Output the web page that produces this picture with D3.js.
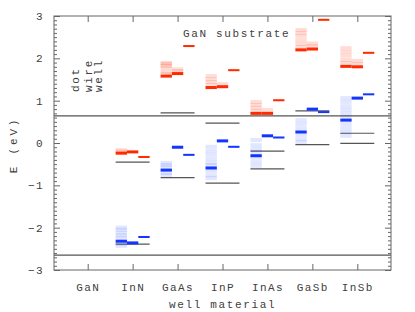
<!DOCTYPE html>
<html><head><meta charset="utf-8">
<script src="https://cdn.jsdelivr.net/npm/d3@7/dist/d3.min.js"></script>
<style>
html,body{margin:0;padding:0;background:#fff;}
svg text{font-family:"Liberation Mono","DejaVu Sans Mono",monospace;fill:#404040;}
</style></head>
<body><svg id="c" width="415" height="312"></svg>
<script>
// ---- data ----
const materials = ["GaN","InN","GaAs","InP","InAs","GaSb","InSb"];
const yTicks = [-3,-2,-1,0,1,2,3];
const structures = ["dot","wire","well"];
const substrateCB = 0.64, substrateVB = -2.65;
const cbEdge = [null, -0.45, 0.71, 0.47, -0.19, 0.76, 0.23];
const vbEdge = [null, -2.39, -0.82, -0.95, -0.61, -0.04, -0.01];
// first value of each list = ground state, the rest = excited states
const dotE = [[], [-0.24,-0.20,-0.17], [1.58,1.63,1.68,1.77,1.82,1.87,1.89], [1.31,1.37,1.44,1.51,1.58],
  [0.70,0.76,0.83,0.90,0.97], [2.20,2.27,2.34,2.43,2.53,2.60,2.67], [1.81,1.89,1.96,2.06,2.15,2.24]];
const wireE = [[], [-0.21], [1.64,1.70,1.74], [1.33,1.39], [0.70,0.78], [2.22,2.29,2.35], [1.80,1.87,1.94]];
const wellE = [[], [-0.33], [2.29], [1.72], [1.01], [2.91], [2.13]];
const dotH = [[], [-2.32,-2.00,-2.05,-2.12,-2.18,-2.24,-2.38,-2.43], [-0.64,-0.47,-0.52,-0.57,-0.71,-0.76],
  [-0.59,-0.09,-0.19,-0.28,-0.38,-0.47,-0.52,-0.66,-0.76,-0.83], [-0.30,0.07,-0.05,-0.14,-0.21,-0.35,-0.45,-0.54],
  [0.26,0.54,0.45,0.35,0.19,0.09,0.02], [0.54,1.06,0.97,0.87,0.78,0.69,0.61,0.45,0.35,0.26,0.17]];
const wireH = [[], [-2.36], [-0.10], [0.05], [0.17], [0.80], [1.06]];
const wellH = [[], [-2.22], [-0.28], [-0.09], [0.13], [0.73], [1.15]];

// ---- layout ----
const L=54, R=391, T=16, B=270;
const svg = d3.select("#c");
const x = d3.scaleLinear().domain([-0.75, 6.75]).range([L, R]);
const y = d3.scaleLinear().domain([-3, 3]).range([B, T]);
const halfW = 0.378;
const red = "#ff2a00", blue = "#1236ff";

// substrate lines
[substrateCB, substrateVB].forEach(v => {
  svg.append("line").attr("x1", L).attr("x2", R).attr("y1", y(v)).attr("y2", y(v))
    .attr("stroke", "#555").attr("stroke-width", 1.3);
});

const g = svg.append("g");
materials.forEach((m, i) => {
  if (i === 0) return;
  const sub = d3.scaleBand().domain(structures).range([x(i - halfW), x(i + halfW)]);
  [cbEdge[i], vbEdge[i]].forEach(v => {
    g.append("line").attr("x1", x(i - halfW)).attr("x2", x(i + halfW))
      .attr("y1", y(v)).attr("y2", y(v)).attr("stroke", "#555").attr("stroke-width", 1.2);
  });
  const sets = [
    ["dot", dotE[i], red], ["wire", wireE[i], red], ["well", wellE[i], red],
    ["dot", dotH[i], blue], ["wire", wireH[i], blue], ["well", wellH[i], blue]
  ];
  sets.forEach(([s, lv, col]) => {
    const excited = lv.slice(1);
    g.selectAll(null).data(excited).enter().append("rect")
      .attr("x", sub(s)).attr("width", sub.bandwidth())
      .attr("y", d => y(d) - 2).attr("height", 4)
      .attr("fill", col).attr("opacity", col === blue ? 0.12 : 0.16);
    if (lv.length) {
      const h = s === "well" ? 2 : 3;
      g.append("rect").attr("x", sub(s)).attr("width", sub.bandwidth())
        .attr("y", y(lv[0]) - h / 2).attr("height", h).attr("fill", col);
    }
  });
});

// axes
const axCol = "#666";
function styleAxis(sel) {
  sel.select(".domain").remove();
  sel.selectAll(".tick line").attr("stroke", axCol);
  sel.selectAll("text").style("font-size", "11px").style("letter-spacing", "1.4px")
    .attr("fill", "#404040");
}
const minor = d3.range(-30, 31).filter(k => k % 10 !== 0).map(k => k / 10);
svg.append("g").attr("transform", `translate(${L},0)`)
  .call(d3.axisLeft(y).tickValues(yTicks).tickSize(-6).tickPadding(10)
    .tickFormat(d => d < 0 ? "\u2212" + Math.abs(d) : d))
  .call(styleAxis);
svg.append("g").attr("transform", `translate(${L},0)`)
  .call(d3.axisLeft(y).tickValues(minor).tickSize(-3).tickFormat(""))
  .call(styleAxis);
svg.append("g").attr("transform", `translate(${R},0)`)
  .call(d3.axisRight(y).tickValues(yTicks).tickSize(-6).tickFormat(""))
  .call(styleAxis);
svg.append("g").attr("transform", `translate(${R},0)`)
  .call(d3.axisRight(y).tickValues(minor).tickSize(-3).tickFormat(""))
  .call(styleAxis);
const xIdx = materials.map((m, i) => i);
svg.append("g").attr("transform", `translate(0,${B})`)
  .call(d3.axisBottom(x).tickValues(xIdx).tickSize(-6).tickPadding(13)
    .tickFormat(i => materials[i]))
  .call(styleAxis);
svg.append("g").attr("transform", `translate(0,${T})`)
  .call(d3.axisTop(x).tickValues(xIdx).tickSize(-6).tickFormat(""))
  .call(styleAxis);

// frame
svg.append("rect").attr("x", L).attr("y", T).attr("width", R - L).attr("height", B - T)
  .attr("fill", "none").attr("stroke", axCol).attr("stroke-width", 1);

// texts
const txt = (s, tx, ty, opts = {}) => svg.append("text").text(s)
  .attr("transform", `translate(${tx},${ty})` + (opts.rot ? " rotate(-90)" : ""))
  .attr("text-anchor", opts.anchor || "start")
  .style("font-size", "11px").style("letter-spacing", opts.ls || "1.65px");
txt("GaN substrate", 183, 37);
txt("well material", (L + R) / 2, 308, {anchor: "middle"});
txt("E (eV)", 17, 145, {rot: true, anchor: "middle", ls: "2.8px"});
txt("dot", 78.5, 92, {rot: true});
txt("wire", 92, 92, {rot: true});
txt("well", 102, 92, {rot: true});
</script></body></html>
